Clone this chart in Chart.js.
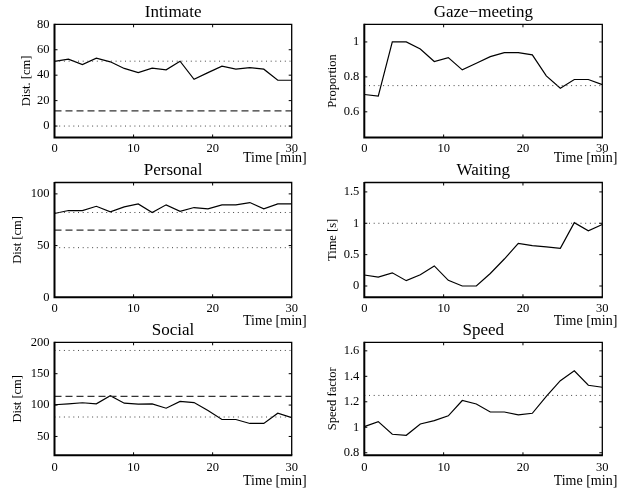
<!DOCTYPE html>
<html><head><meta charset="utf-8">
<script src="https://cdn.jsdelivr.net/npm/chart.js@4/dist/chart.umd.min.js"></script>
<style>
html,body{margin:0;padding:0;background:#fff;}
#wrap{position:relative;width:625px;height:494px;overflow:hidden;background:#fff;}
canvas{position:absolute;}
</style></head>
<body><div id="wrap"></div>
<script>
// ---- data ----
const time = [0,1.76,3.53,5.29,7.06,8.82,10.59,12.35,14.12,15.88,17.65,19.41,21.18,22.94,24.71,26.47,28.24,30];
const xTicks = [0,10,20,30];

const intimate = [50.8,52.6,48.4,53.4,50.5,45.3,42.1,45.5,44.2,51,36.8,42,47.1,44.7,46,44.7,36,36];
const intimateDotted = [51,0];
const intimateDashed = [12];
const intimateTicks = [0,20,40,60,80];

const gaze = [0.699,0.69,1.0,1.0,0.96,0.888,0.91,0.84,0.878,0.916,0.939,0.939,0.926,0.806,0.735,0.785,0.785,0.756];
const gazeDotted = [0.75];
const gazeDashed = [];
const gazeTicks = [0.6,0.8,1];

const personal = [81,83.9,83.9,88,82.6,87.4,90.3,81.9,89.4,83.2,86.8,85.5,89.4,89.4,91.6,85.5,90.3,90.3];
const personalDotted = [82,48];
const personalDashed = [65];
const personalTicks = [0,50,100];

const waiting = [0.175,0.143,0.21,0.085,0.18,0.32,0.09,0,0,0.2,0.43,0.68,0.645,0.625,0.6,1.01,0.88,0.98];
const waitingDotted = [1];
const waitingDashed = [];
const waitingTicks = [0,0.5,1,1.5];

const social = [100.5,102,103.7,102,115,103,101.6,102,95,105.8,104,91.5,77,77,70.7,70.7,87,80];
const socialDotted = [187,81];
const socialDashed = [114];
const socialTicks = [50,100,150,200];

const speed = [1.005,1.044,0.945,0.937,1.026,1.052,1.09,1.21,1.183,1.12,1.12,1.097,1.11,1.243,1.366,1.444,1.33,1.314];
const speedDotted = [1.25];
const speedDashed = [];
const speedTicks = [0.8,1,1.2,1.4,1.6];

// ---- layout ----
const FONT = "'Liberation Serif','Times New Roman',serif";
const cols = [
  {cx:0, cw:310, pl:54.5, pr:291.7, ylabX:[26.7,18,18]},
  {cx:310, cw:315, pl:364.3, pr:602.3, ylabX:[333,333,333]}
];
const rows = [
  {cy:0, ch:165, pt:24.3, pb:137.5, tickPad:4, xlabOff:20.5},
  {cy:155, ch:175, pt:182.5, pb:297.3, tickPad:4, xlabOff:24.4},
  {cy:315, ch:179, pt:342.3, pb:455.3, tickPad:5, xlabOff:26.4}
];

const panels = [
  {title:'Intimate', ylabel:'Dist. [cm]', data:intimate, dotted:intimateDotted, dashed:intimateDashed, ticks:intimateTicks, min:-9, max:80, r:0, c:0},
  {title:'Gaze\u2212meeting', ylabel:'Proportion', data:gaze, dotted:gazeDotted, dashed:gazeDashed, ticks:gazeTicks, min:0.453, max:1.101, r:0, c:1},
  {title:'Personal', ylabel:'Dist [cm]', data:personal, dotted:personalDotted, dashed:personalDashed, ticks:personalTicks, min:0, max:111, r:1, c:0},
  {title:'Waiting', ylabel:'Time [s]', data:waiting, dotted:waitingDotted, dashed:waitingDashed, ticks:waitingTicks, min:-0.18, max:1.65, r:1, c:1},
  {title:'Social', ylabel:'Dist [cm]', data:social, dotted:socialDotted, dashed:socialDashed, ticks:socialTicks, min:20, max:200, r:2, c:0},
  {title:'Speed', ylabel:'Speed factor', data:speed, dotted:speedDotted, dashed:speedDashed, ticks:speedTicks, min:0.78, max:1.667, r:2, c:1}
];

const YW = 40, XH = 20;

const framePlugin = {
  id:'frame',
  afterDraw(chart, args, opts){
    const {ctx, chartArea:a} = chart;
    const xs = chart.scales.x, ys = chart.scales.y;
    ctx.save();
    ctx.strokeStyle = '#000';
    // inward ticks
    ctx.lineWidth = 1;
    const TL = 3;
    ctx.beginPath();
    xs.ticks.forEach(t=>{
      const px = xs.getPixelForValue(t.value);
      if (px <= a.left+1 || px >= a.right-1) return;
      ctx.moveTo(px, a.bottom); ctx.lineTo(px, a.bottom-TL);
      ctx.moveTo(px, a.top); ctx.lineTo(px, a.top+TL);
    });
    ys.ticks.forEach(t=>{
      const py = ys.getPixelForValue(t.value);
      if (py <= a.top+1 || py >= a.bottom-1) return;
      ctx.moveTo(a.left, py); ctx.lineTo(a.left+TL, py);
      ctx.moveTo(a.right, py); ctx.lineTo(a.right-TL, py);
    });
    ctx.stroke();
    // frame
    ctx.lineWidth = 1.3;
    ctx.beginPath();
    ctx.moveTo(a.left, a.top); ctx.lineTo(a.right, a.top); ctx.lineTo(a.right, a.bottom);
    ctx.stroke();
    ctx.lineWidth = 2;
    ctx.beginPath();
    ctx.moveTo(a.left, a.top-0.6); ctx.lineTo(a.left, a.bottom); ctx.lineTo(a.right+0.6, a.bottom);
    ctx.stroke();
    // texts
    ctx.fillStyle = '#000';
    ctx.textBaseline = 'middle';
    ctx.font = '17px ' + FONT;
    ctx.textAlign = 'center';
    ctx.fillText(opts.title, (a.left+a.right)/2, a.top - 11.5);
    ctx.font = '14px ' + FONT;
    ctx.textAlign = 'right';
    ctx.fillText('Time [min]', a.right + 15, a.bottom + opts.xlabOff);
    ctx.font = '12.5px ' + FONT;
    ctx.textAlign = 'center';
    ctx.translate(opts.ylabX, (a.top+a.bottom)/2);
    ctx.rotate(-Math.PI/2);
    ctx.fillText(opts.ylabel, 0, 0);
    ctx.restore();
  }
};

const wrap = document.getElementById('wrap');
panels.forEach(p=>{
  const col = cols[p.c], row = rows[p.r];
  const cv = document.createElement('canvas');
  cv.width = col.cw; cv.height = row.ch;
  cv.style.left = col.cx + 'px'; cv.style.top = row.cy + 'px';
  cv.style.width = col.cw + 'px'; cv.style.height = row.ch + 'px';
  wrap.appendChild(cv);

  const datasets = [];
  p.dotted.forEach(v=>datasets.push({data:[{x:time[0],y:v},{x:time[time.length-1],y:v}], borderColor:'#444', borderWidth:1, borderDash:[1,3.7], pointRadius:0}));
  p.dashed.forEach(v=>datasets.push({data:[{x:time[0],y:v},{x:time[time.length-1],y:v}], borderColor:'#333', borderWidth:1.3, borderDash:[7,4], pointRadius:0}));
  datasets.push({data:time.map((t,i)=>({x:t,y:p.data[i]})), borderColor:'#000', borderWidth:1.2, pointRadius:0, tension:0});

  new Chart(cv, {
    type:'line',
    data:{datasets},
    options:{
      responsive:false, animation:false, devicePixelRatio:1,
      layout:{padding:{
        left: col.pl - col.cx - YW,
        right: col.cx + col.cw - col.pr,
        top: row.pt - row.cy,
        bottom: row.cy + row.ch - row.pb - XH
      }},
      plugins:{legend:{display:false}, tooltip:{enabled:false},
        frame:{title:p.title, ylabel:p.ylabel, ylabX: col.ylabX[p.r] - col.cx, xlabOff: row.xlabOff}},
      scales:{
        x:{type:'linear', min:0, max:30,
          afterBuildTicks:s=>{s.ticks = xTicks.map(v=>({value:v}));},
          afterFit:s=>{s.height = XH;},
          grid:{display:false, drawTicks:false}, border:{display:false},
          ticks:{color:'#000', padding:row.tickPad, maxRotation:0, font:{family:FONT, size:12.5}, callback:v=>String(v)}},
        y:{type:'linear', min:p.min, max:p.max,
          afterBuildTicks:s=>{s.ticks = p.ticks.map(v=>({value:v}));},
          afterFit:s=>{s.width = YW;},
          grid:{display:false, drawTicks:false}, border:{display:false},
          ticks:{color:'#000', padding:5, font:{family:FONT, size:12.5}, callback:v=>String(+(+v).toFixed(2))}}
      }
    },
    plugins:[framePlugin]
  });
});
</script>
</body></html>
